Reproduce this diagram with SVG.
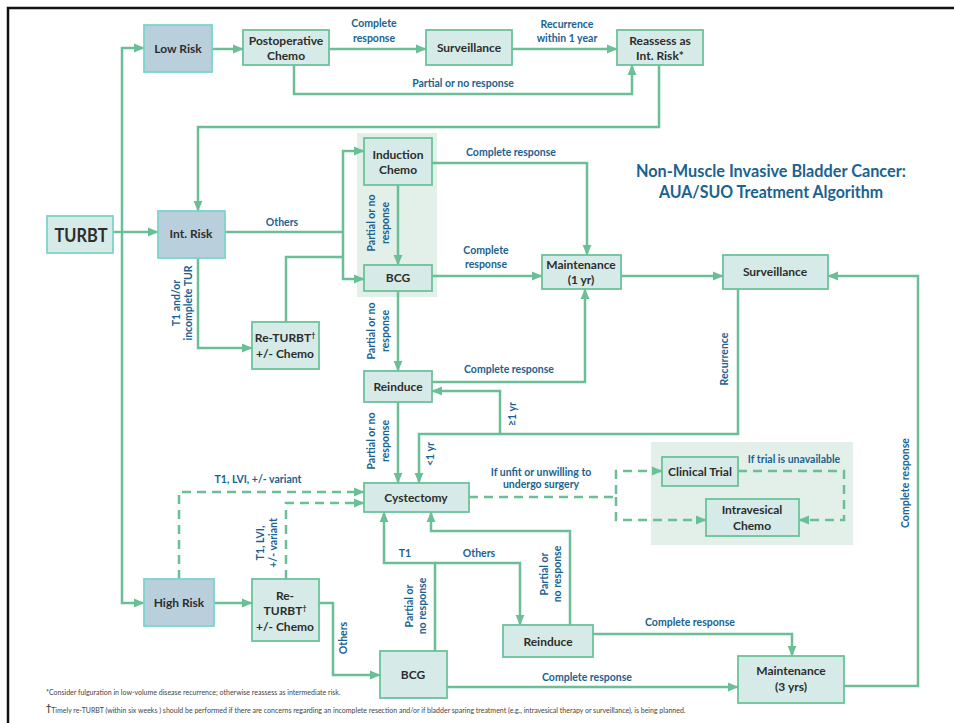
<svg xmlns="http://www.w3.org/2000/svg" width="954" height="723" viewBox="0 0 954 723">
<defs>
<marker id="ah" viewBox="0 0 10 10" refX="9.5" refY="5" markerWidth="11" markerHeight="11" markerUnits="userSpaceOnUse" orient="auto">
<path d="M0,0.8 L10,5 L0,9.2 z" fill="#6abf97"/>
</marker>
<style>
.c{fill:none;stroke:#6abf97;stroke-width:2.5}
.d{fill:none;stroke:#6abf97;stroke-width:2.5;stroke-dasharray:9,6}
.n{fill:#d6ebe7;stroke:#6cc29b;stroke-width:1.8}
.b{fill:#b9cfdc;stroke:#7cd4cb;stroke-width:1.8}
.t{fill:#d6ebe7;stroke:#7cd4cb;stroke-width:1.8}
.nt{font-family:Lato,"Liberation Sans",sans-serif;font-weight:bold;font-size:12px;fill:#2d2d2d;text-anchor:middle}
.l{font-family:Lato,"Liberation Sans",sans-serif;font-weight:bold;font-size:10.5px;fill:#1b6290;text-anchor:middle}
.f{font-family:Lato,"Liberation Sans",sans-serif;font-size:7px;fill:#444}
.bg{fill:#e3efe9}
</style>
</defs>
<rect x="0" y="0" width="954" height="723" fill="#ffffff"/>
<rect x="8" y="8" width="1000" height="800" fill="none" stroke="#111" stroke-width="2.5"/>
<rect class="bg" x="357" y="133" width="80" height="164"/>
<rect class="bg" x="651" y="442" width="202" height="103"/>

<g id="connectors">
<path class="c" d="M113,232 H158" marker-end="url(#ah)"/>
<path class="c" d="M122,232 V48 H144" marker-end="url(#ah)"/>
<path class="c" d="M122,232 V603 H144" marker-end="url(#ah)"/>
<path class="c" d="M212,49 H243" marker-end="url(#ah)"/>
<path class="c" d="M329,49 H426" marker-end="url(#ah)"/>
<path class="c" d="M512,49 H617" marker-end="url(#ah)"/>
<path class="c" d="M294,65 V94 H632 V65" marker-end="url(#ah)"/>
<path class="c" d="M659,65 V127 H198 V211" marker-end="url(#ah)"/>
<path class="c" d="M225,232 H343"/>
<path class="c" d="M343,232 V151 H364" marker-end="url(#ah)"/>
<path class="c" d="M343,232 V279 H364" marker-end="url(#ah)"/>
<path class="c" d="M198,258 V348 H252" marker-end="url(#ah)"/>
<path class="c" d="M286,322 V257 H343"/>
<path class="c" d="M398,185 V265" marker-end="url(#ah)"/>
<path class="c" d="M432,163 H587 V255" marker-end="url(#ah)"/>
<path class="c" d="M432,276 H542" marker-end="url(#ah)"/>
<path class="c" d="M621,276 H723" marker-end="url(#ah)"/>
<path class="c" d="M398,291 V371" marker-end="url(#ah)"/>
<path class="c" d="M432,382 H585 V289" marker-end="url(#ah)"/>
<path class="c" d="M738,289 V434 H419 V483" marker-end="url(#ah)"/>
<path class="c" d="M500,434 V391 H432" marker-end="url(#ah)"/>
<path class="c" d="M398,402 V483" marker-end="url(#ah)"/>
<path class="d" d="M469,497 H616 V471 H662" marker-end="url(#ah)"/>
<path class="d" d="M616,497 V520 H706" marker-end="url(#ah)"/>
<path class="d" d="M738,471 H844 V520 H799" marker-end="url(#ah)"/>
<path class="c" d="M214,603 H252" marker-end="url(#ah)"/>
<path class="d" d="M179,579 V492 H364" marker-end="url(#ah)"/>
<path class="d" d="M286,579 V503 H364" marker-end="url(#ah)"/>
<path class="c" d="M319,603 H333 V675 H380" marker-end="url(#ah)"/>
<path class="c" d="M447,687 H738" marker-end="url(#ah)"/>
<path class="c" d="M844,686 H918 V276 H828" marker-end="url(#ah)"/>
<path class="c" d="M435,651 V563 H384 V512" marker-end="url(#ah)"/>
<path class="c" d="M435,563 H520 V625" marker-end="url(#ah)"/>
<path class="c" d="M570,625 V531 H431 V512" marker-end="url(#ah)"/>
<path class="c" d="M593,634 H792 V656" marker-end="url(#ah)"/>
</g>

<g id="labels">
<text class="l" x="374" y="27">Complete</text>
<text class="l" x="374" y="42">response</text>
<text class="l" x="567" y="28">Recurrence</text>
<text class="l" x="567" y="42">within 1 year</text>
<text class="l" x="463" y="87">Partial or no response</text>
<text class="l" x="282" y="226">Others</text>
<text class="l" x="511" y="156">Complete response</text>
<text class="l" x="486" y="254">Complete</text>
<text class="l" x="486" y="268">response</text>
<text class="l" x="509" y="373">Complete response</text>
<text class="l" x="258" y="483">T1, LVI, +/- variant</text>
<text class="l" x="541" y="476">If unfit or unwilling to</text>
<text class="l" x="541" y="488">undergo surgery</text>
<text class="l" x="794" y="463">If trial is unavailable</text>
<text class="l" x="405" y="557">T1</text>
<text class="l" x="479" y="557">Others</text>
<text class="l" x="690" y="626">Complete response</text>
<text class="l" x="587" y="681">Complete response</text>
<text class="l" transform="translate(375,223) rotate(-90)">Partial or no</text>
<text class="l" transform="translate(389,223) rotate(-90)">response</text>
<text class="l" transform="translate(375,331) rotate(-90)">Partial or no</text>
<text class="l" transform="translate(389,331) rotate(-90)">response</text>
<text class="l" transform="translate(375,441) rotate(-90)">Partial or no</text>
<text class="l" transform="translate(389,441) rotate(-90)">response</text>
<text class="l" transform="translate(180,303) rotate(-90)">T1 and/or</text>
<text class="l" transform="translate(192,303) rotate(-90)">incomplete TUR</text>
<text class="l" transform="translate(516,414) rotate(-90)">≥1 yr</text>
<text class="l" transform="translate(434,454) rotate(-90)">&lt;1 yr</text>
<text class="l" transform="translate(728,359) rotate(-90)">Recurrence</text>
<text class="l" transform="translate(264,543) rotate(-90)">T1, LVI,</text>
<text class="l" transform="translate(277,543) rotate(-90)">+/- variant</text>
<text class="l" transform="translate(347,638) rotate(-90)">Others</text>
<text class="l" transform="translate(413,606) rotate(-90)">Partial or</text>
<text class="l" transform="translate(426,606) rotate(-90)">no response</text>
<text class="l" transform="translate(548,574) rotate(-90)">Partial or</text>
<text class="l" transform="translate(561,574) rotate(-90)">no response</text>
<text class="l" transform="translate(909,483) rotate(-90)">Complete response</text>
</g>

<g id="title">
<text class="l" x="771" y="177" style="font-size:16.5px" textLength="270" lengthAdjust="spacingAndGlyphs">Non-Muscle Invasive Bladder Cancer:</text>
<text class="l" x="771" y="198" style="font-size:16.5px" textLength="224" lengthAdjust="spacingAndGlyphs">AUA/SUO Treatment Algorithm</text>
</g>

<g id="turbt"><rect class="t" x="47" y="216" width="66" height="37"/><text class="nt" x="81" y="242" style="font-size:19px" textLength="53" lengthAdjust="spacingAndGlyphs">TURBT</text></g>
<g id="low-risk"><rect class="b" x="144" y="25" width="68" height="47"/><text class="nt" x="178" y="53">Low Risk</text></g>
<g id="postop-chemo"><rect class="n" x="243" y="30" width="86" height="35"/><text class="nt" x="286" y="45">Postoperative</text><text class="nt" x="286" y="60">Chemo</text></g>
<g id="surveillance-top"><rect class="n" x="426" y="30" width="86" height="35"/><text class="nt" x="469" y="52">Surveillance</text></g>
<g id="reassess"><rect class="n" x="617" y="30" width="86" height="35"/><text class="nt" x="660" y="45">Reassess as</text><text class="nt" x="660" y="60">Int. Risk*</text></g>
<g id="int-risk"><rect class="b" x="158" y="211" width="67" height="47"/><text class="nt" x="191" y="238">Int. Risk</text></g>
<g id="induction-chemo"><rect class="n" x="364" y="138" width="68" height="47"/><text class="nt" x="398" y="159">Induction</text><text class="nt" x="398" y="174">Chemo</text></g>
<g id="bcg-int"><rect class="n" x="364" y="265" width="68" height="26"/><text class="nt" x="398" y="282">BCG</text></g>
<g id="maintenance-1yr"><rect class="n" x="542" y="255" width="79" height="34"/><text class="nt" x="581" y="269">Maintenance</text><text class="nt" x="581" y="284">(1 yr)</text></g>
<g id="surveillance-right"><rect class="n" x="723" y="255" width="105" height="34"/><text class="nt" x="775" y="276">Surveillance</text></g>
<g id="re-turbt-int"><rect class="n" x="252" y="322" width="67" height="47"/><text class="nt" x="285" y="342">Re-TURBT<tspan style="font-size:7px" dy="-4">†</tspan></text><text class="nt" x="285" y="358">+/- Chemo</text></g>
<g id="reinduce-int"><rect class="n" x="364" y="371" width="68" height="31"/><text class="nt" x="398" y="391">Reinduce</text></g>
<g id="cystectomy"><rect class="n" x="364" y="483" width="105" height="29"/><text class="nt" x="416" y="502">Cystectomy</text></g>
<g id="clinical-trial"><rect class="n" x="662" y="457" width="76" height="29"/><text class="nt" x="700" y="476">Clinical Trial</text></g>
<g id="intravesical-chemo"><rect class="n" x="706" y="499" width="93" height="37"/><text class="nt" x="752" y="514">Intravesical</text><text class="nt" x="752" y="530">Chemo</text></g>
<g id="high-risk"><rect class="b" x="144" y="579" width="70" height="47"/><text class="nt" x="179" y="607">High Risk</text></g>
<g id="re-turbt-high"><rect class="n" x="252" y="579" width="67" height="62"/><text class="nt" x="285" y="600">Re-</text><text class="nt" x="285" y="615">TURBT<tspan style="font-size:7px" dy="-4">†</tspan></text><text class="nt" x="285" y="631">+/- Chemo</text></g>
<g id="bcg-high"><rect class="n" x="380" y="651" width="67" height="47"/><text class="nt" x="413" y="679">BCG</text></g>
<g id="reinduce-high"><rect class="n" x="503" y="625" width="90" height="32"/><text class="nt" x="548" y="646">Reinduce</text></g>
<g id="maintenance-3yrs"><rect class="n" x="738" y="656" width="106" height="47"/><text class="nt" x="791" y="675">Maintenance</text><text class="nt" x="791" y="691">(3 yrs)</text></g>

<g id="footnotes">
<text class="f" x="46" y="695">*Consider fulguration in low-volume disease recurrence; otherwise reassess as intermediate risk.</text>
<text class="f" x="46" y="713"><tspan style="font-size:9px;font-weight:bold" dy="-2">†</tspan><tspan dy="2">Timely re-TURBT (within six weeks ) should be performed if there are concerns regarding an incomplete resection and/or if bladder sparing treatment (e.g., intravesical therapy or surveillance), is being planned.</tspan></text>
</g>
</svg>
